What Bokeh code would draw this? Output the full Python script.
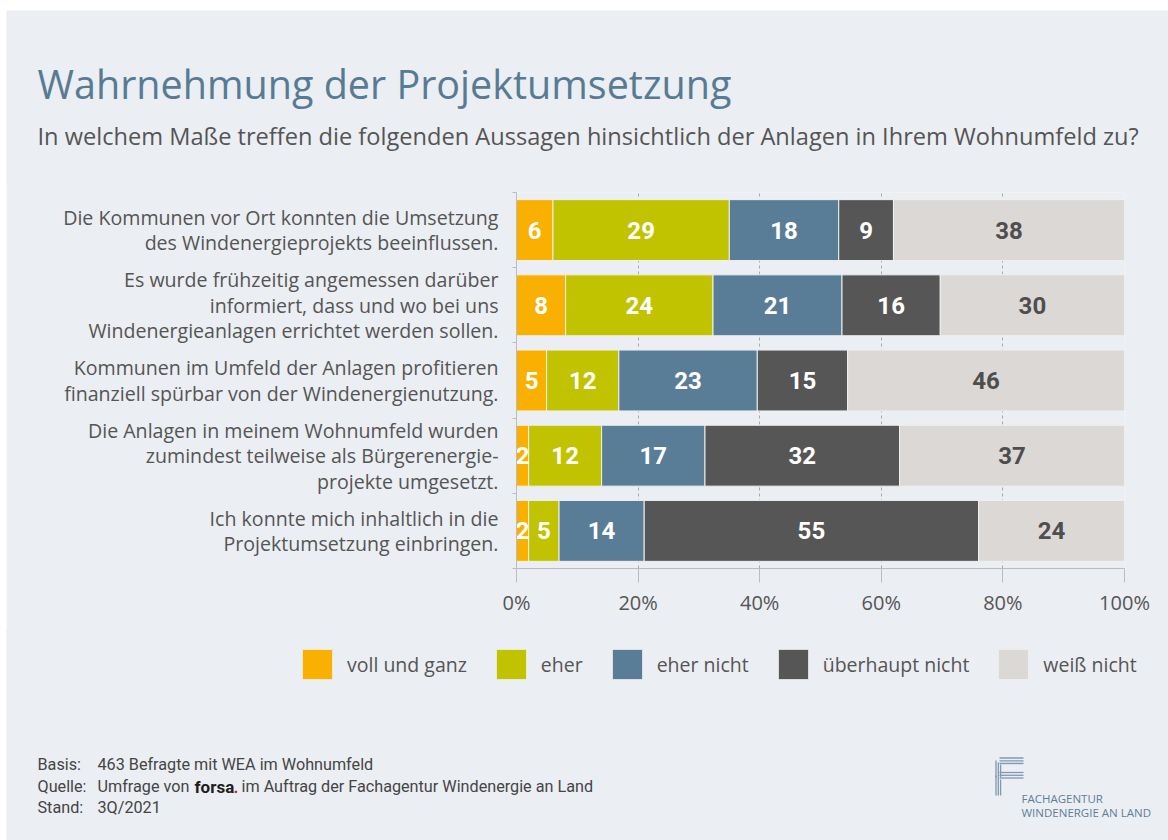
from bokeh.plotting import figure
from bokeh.layouts import column
from bokeh.models import (ColumnDataSource, Range1d, FixedTicker, Legend, LegendItem)
from bokeh.core.properties import value
from bokeh.embed import file_html
from bokeh.resources import INLINE

# ---------------- data ----------------
title = "Wahrnehmung der Projektumsetzung"
subtitle = "In welchem Maße treffen die folgenden Aussagen hinsichtlich der Anlagen in Ihrem Wohnumfeld zu?"

statements = [
    "Die Kommunen vor Ort konnten die Umsetzung\ndes Windenergieprojekts beeinflussen.",
    "Es wurde frühzeitig angemessen darüber\ninformiert, dass und wo bei uns\nWindenergieanlagen errichtet werden sollen.",
    "Kommunen im Umfeld der Anlagen profitieren\nfinanziell spürbar von der Windenergienutzung.",
    "Die Anlagen in meinem Wohnumfeld wurden\nzumindest teilweise als Bürgerenergie-\nprojekte umgesetzt.",
    "Ich konnte mich inhaltlich in die\nProjektumsetzung einbringen.",
]
series = ["voll und ganz", "eher", "eher nicht", "überhaupt nicht", "weiß nicht"]
voll_und_ganz = [6, 8, 5, 2, 2]
eher = [29, 24, 12, 12, 5]
eher_nicht = [18, 21, 23, 17, 14]
ueberhaupt_nicht = [9, 16, 15, 32, 55]
weiss_nicht = [38, 30, 46, 37, 24]
x_ticks = [0, 20, 40, 60, 80, 100]
x_tick_labels = ["0%", "20%", "40%", "60%", "80%", "100%"]

footer_keys = ["Basis:", "Quelle:", "Stand:"]
footer_basis = "463 Befragte mit WEA im Wohnumfeld"
footer_quelle_pre = "Umfrage von"
footer_quelle_brand = "forsa"
footer_quelle_post = "im Auftrag der Fachagentur Windenergie an Land"
footer_stand = "3Q/2021"
logo_lines = ["FACHAGENTUR", "WINDENERGIE AN LAND"]

# ---------------- style ----------------
BG = "#EBEEF2"
TXT = "#555555"
AXC = "#B9BCC0"
colors = ["#F9B000", "#C1C300", "#5A7D97", "#565656", "#DCD8D5"]
label_colors = ["#FFFFFF", "#FFFFFF", "#FFFFFF", "#FFFFFF", "#4E4E4E"]

PAGE_W, PAGE_H = 1168, 840
LEFT_M = 6          # white page strip at left
TOP_M = 10          # white page strip at top
W = PAGE_W - LEFT_M
A_TOP, A_H = TOP_M, 185 - TOP_M      # header block   (page y 10 .. 185)
B_TOP, B_H = 185, 445                # chart block    (page y 185 .. 630)
C_TOP, C_H = 630, PAGE_H - 630       # footer block   (page y 630 .. 840)
FRAME_L, FRAME_R, FRAME_T, FRAME_B = 516, 1124, 191, 567
OV = 1                               # overlap to hide seams between blocks


def canvas(y_top, height, margin):
    f = figure(width=W, height=height, title=None,
               x_range=Range1d(LEFT_M, LEFT_M + W), y_range=Range1d(y_top + height, y_top),
               output_backend="svg", toolbar_location=None, min_border=0,
               x_axis_location=None, y_axis_location=None, margin=margin,
               frame_align=False)
    f.xgrid.visible = False
    f.ygrid.visible = False
    f.outline_line_color = None
    f.background_fill_color = BG
    f.border_fill_color = BG
    return f


# ---------------- header ----------------
A = canvas(A_TOP, A_H + OV, (TOP_M, 0, 0, LEFT_M))
A.text(x=[37], y=[83], text=[title], text_font=value("Open Sans"), text_font_size="39.5px",
       text_color="#587B95", text_baseline="alphabetic", text_align="left")
A.text(x=[37], y=[135], text=[subtitle], text_font=value("Open Sans"), text_font_size="23.6px",
       text_color=TXT, text_baseline="alphabetic", text_align="left")

# ---------------- chart ----------------
n = len(statements)
B = figure(width=W, height=B_H + OV, title=None, x_range=Range1d(0, 100), y_range=Range1d(0, n),
           output_backend="svg", toolbar_location=None, margin=(-OV, 0, 0, LEFT_M),
           frame_align=False,
           min_border_left=FRAME_L - LEFT_M, min_border_right=PAGE_W - FRAME_R,
           min_border_top=FRAME_T - B_TOP + OV, min_border_bottom=B_TOP + B_H - FRAME_B)
B.background_fill_color = BG
B.border_fill_color = BG
B.outline_line_color = None

ypos = [n - 0.5 - i for i in range(n)]

B.xaxis.ticker = FixedTicker(ticks=x_ticks)
B.xaxis.major_label_overrides = {t: l for t, l in zip(x_ticks, x_tick_labels)}
B.xaxis.major_label_text_font = "Open Sans"
B.xaxis.major_label_text_font_size = "20px"
B.xaxis.major_label_text_color = TXT
B.xaxis.major_tick_out = 14
B.xaxis.major_tick_in = 0
B.xaxis.major_label_standoff = 6
B.xaxis.minor_tick_line_color = None
B.xaxis.axis_line_color = AXC
B.xaxis.major_tick_line_color = AXC

B.yaxis.ticker = FixedTicker(ticks=ypos, minor_ticks=list(range(n + 1)))
B.yaxis.major_label_overrides = {y: s for y, s in zip(ypos, statements)}
B.yaxis.major_label_text_font = "Open Sans"
B.yaxis.major_label_text_font_size = "19.6px"
B.yaxis.major_label_text_color = TXT
B.yaxis.major_label_text_line_height = 0.95
B.yaxis.major_label_text_align = "right"
B.yaxis.major_label_standoff = 14
B.yaxis.major_tick_line_color = None
B.yaxis.major_tick_out = 0
B.yaxis.major_tick_in = 0
B.yaxis.minor_tick_out = 4
B.yaxis.minor_tick_in = 0
B.yaxis.minor_tick_line_color = AXC
B.yaxis.axis_line_color = AXC

B.xgrid.ticker = FixedTicker(ticks=x_ticks[1:])
B.xgrid.grid_line_color = "#A8A8A8"
B.xgrid.grid_line_dash = "3 3"
B.ygrid.grid_line_color = None

rows = list(zip(voll_und_ganz, eher, eher_nicht, ueberhaupt_nicht, weiss_nicht))
keys = ["s%d" % k for k in range(len(series))]
shares = {k: [] for k in keys}
lx, ly, lt, lc = [], [], [], []
for i, r in enumerate(rows):
    tot = float(sum(r))
    cum = 0.0
    for k, v in enumerate(r):
        s = v / tot * 100.0
        shares[keys[k]].append(s)
        lx.append(cum + s / 2.0)
        ly.append(ypos[i])
        lt.append(str(v))
        lc.append(label_colors[k])
        cum += s

src = ColumnDataSource(dict(y=ypos, **shares))
B.hbar_stack(keys, y="y", height=0.81, color=colors,
             line_color="#EEF0F2", line_width=1, source=src)

lsrc = ColumnDataSource(dict(x=lx, y=ly, text=lt, color=lc))
B.text(x="x", y="y", text="text", text_color="color", source=lsrc,
       text_align="center", text_baseline="middle",
       text_font=value("Roboto"), text_font_style="bold", text_font_size="24px")

# ---------------- legend + footer ----------------
C = canvas(C_TOP - OV, C_H + OV, (-OV, 0, 0, LEFT_M))
# legend swatch renderers (one off-canvas bar each, only used for the legend glyphs)
leg_renderers = [C.hbar(y=[-1000], right=[1], height=1, color=c, line_color="#EEF0F2")
                 for c in colors]
legend = Legend(items=[LegendItem(label=s, renderers=[r]) for s, r in zip(series, leg_renderers)],
                orientation="horizontal", location=(298 - LEFT_M, PAGE_H - 682),
                glyph_width=38, glyph_height=38, label_standoff=11, spacing=25,
                padding=0, margin=0, background_fill_alpha=0, border_line_color=None,
                label_text_font="Open Sans", label_text_font_size="19.5px",
                label_text_color=TXT)
C.add_layout(legend)

FOOT = dict(text_font=value("Roboto"), text_font_size="16.2px", text_color="#454545",
            text_baseline="middle", text_align="left")
C.text(x=[37, 37, 37], y=[763, 785, 806], text=footer_keys, **FOOT)
C.text(x=[97, 97, 97], y=[763, 785, 806], text=[footer_basis, footer_quelle_pre, footer_stand], **FOOT)
C.text(x=[194], y=[785], text=[footer_quelle_brand], text_font=value("Roboto"), text_font_size="17px",
       text_font_style="bold", text_color="#1E1E1E", text_baseline="middle")
C.text(x=[233], y=[785], text=["."], text_font=value("Roboto"), text_font_size="17px",
       text_font_style="bold", text_color="#D2232A", text_baseline="middle")
C.text(x=[241], y=[785], text=[footer_quelle_post], **FOOT)

# logo
LOGO = "#7F9AAF"
C.text(x=[1021, 1021], y=[797, 811], text=logo_lines, text_font=value("Open Sans"),
       text_font_size="11.5px", text_color="#5F7F98", text_baseline="middle")
C.segment(x0=[999] * 6, x1=[1023] * 6, y0=[756.5, 759.3, 762, 771, 773.8, 776.5],
          y1=[756.5, 759.3, 762, 771, 773.8, 776.5], line_color=LOGO, line_width=1.3)
C.segment(x0=[995.5, 997.8, 1000.1] * 2, x1=[995.5, 997.8, 1000.1] * 2,
          y0=[759, 761, 763, 774, 776, 778], y1=[776, 776, 776, 794, 794, 794],
          line_color=LOGO, line_width=1.3)

layout = column(A, B, C, spacing=0)
open("out.html", "w").write(file_html(layout, INLINE))
